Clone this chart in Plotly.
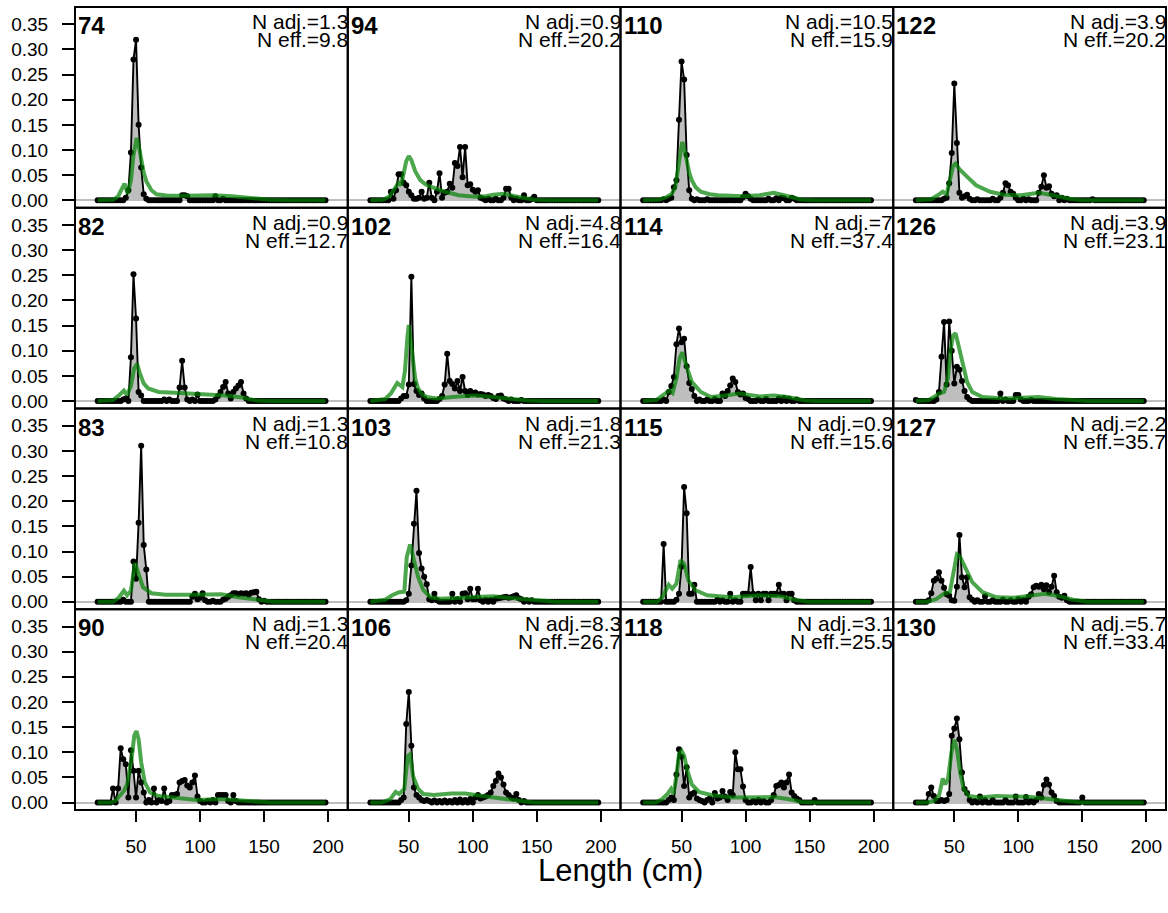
import plotly.graph_objects as go
from plotly.subplots import make_subplots

# ---------------- data ----------------
LENGTH_BINS = list(range(20, 200, 2))
X_TICKS = [50, 100, 150, 200]
Y_TICKS = [0.0, 0.05, 0.10, 0.15, 0.20, 0.25, 0.30, 0.35]
Y_TICK_LABELS = ["0.00", "0.05", "0.10", "0.15", "0.20", "0.25", "0.30", "0.35"]

# panels in column-major order (as drawn)
PANEL_IDS = [74, 82, 83, 90, 94, 102, 103, 106, 110, 114, 115, 118, 122, 126, 127, 130]
N_ADJ = ["1.3", "0.9", "1.3", "1.3", "0.9", "4.8", "1.8", "8.3",
         "10.5", "7", "0.9", "3.1", "3.9", "3.9", "2.2", "5.7"]
N_EFF = ["9.8", "12.7", "10.8", "20.4", "20.2", "16.4", "21.3", "26.7",
         "15.9", "37.4", "15.6", "25.5", "20.2", "23.1", "35.7", "33.4"]

# observed proportions (bins not listed are zero)
obs_74 = {42: 0.005, 44: 0.02, 46: 0.095, 48: 0.28, 50: 0.319, 52: 0.15, 54: 0.065, 56: 0.012,
          58: 0.003, 86: 0.01, 88: 0.01, 90: 0.008, 112: 0.008, 118: 0.003}
obs_82 = {40: 0.003, 42: 0.005, 46: 0.087, 48: 0.252, 50: 0.164, 52: 0.018, 54: 0.011, 72: 0.003,
          76: 0.003, 84: 0.027, 86: 0.08, 88: 0.027, 90: 0.003, 94: 0.003, 98: 0.013, 112: 0.003,
          114: 0.01, 116: 0.018, 118: 0.028, 120: 0.038, 122: 0.015, 124: 0.005, 126: 0.018,
          128: 0.025, 130: 0.031, 132: 0.038, 134: 0.015, 136: 0.005}
obs_83 = {40: 0.004, 48: 0.08, 50: 0.046, 52: 0.157, 54: 0.31, 56: 0.113, 58: 0.064, 94: 0.01,
          96: 0.016, 98: 0.005, 100: 0.008, 102: 0.017, 104: 0.003, 110: 0.002, 118: 0.004,
          120: 0.006, 122: 0.01, 124: 0.013, 126: 0.017, 128: 0.017, 130: 0.015, 132: 0.017,
          134: 0.016, 136: 0.017, 138: 0.014, 140: 0.018, 142: 0.019, 144: 0.02, 146: 0.005,
          150: 0.002}
obs_90 = {32: 0.028, 36: 0.028, 38: 0.108, 40: 0.086, 42: 0.076, 44: 0.01, 46: 0.104, 48: 0.063,
          50: 0.01, 52: 0.063, 54: 0.04, 56: 0.02, 60: 0.005, 64: 0.028, 68: 0.005, 70: 0.003,
          72: 0.028, 76: 0.003, 78: 0.015, 80: 0.015, 82: 0.017, 84: 0.04, 86: 0.043, 88: 0.045,
          90: 0.034, 92: 0.03, 94: 0.04, 96: 0.054, 98: 0.012, 100: 0.003, 106: 0.003, 110: 0.005,
          114: 0.015, 116: 0.015, 118: 0.015, 120: 0.015, 122: 0.003, 126: 0.015, 128: 0.003}
obs_94 = {36: 0.017, 38: 0.003, 40: 0.02, 42: 0.052, 44: 0.052, 46: 0.035, 48: 0.03, 50: 0.017,
          52: 0.01, 54: 0.003, 56: 0.003, 58: 0.005, 60: 0.017, 62: 0.003, 64: 0.005, 66: 0.035,
          68: 0.005, 72: 0.017, 74: 0.054, 76: 0.005, 78: 0.015, 80: 0.017, 82: 0.033, 84: 0.025,
          86: 0.074, 88: 0.068, 90: 0.106, 92: 0.046, 94: 0.106, 96: 0.03, 98: 0.032, 100: 0.021,
          102: 0.017, 104: 0.02, 106: 0.005, 108: 0.003, 112: 0.003, 118: 0.003, 124: 0.005,
          126: 0.023, 128: 0.023, 130: 0.005, 134: 0.003, 140: 0.01, 146: 0.002, 148: 0.007}
obs_102 = {44: 0.005, 46: 0.01, 48: 0.01, 50: 0.033, 52: 0.247, 54: 0.034, 56: 0.02, 58: 0.012,
           60: 0.015, 62: 0.005, 74: 0.004, 76: 0.01, 78: 0.033, 80: 0.094, 82: 0.04, 84: 0.034,
           86: 0.025, 88: 0.04, 90: 0.02, 92: 0.048, 94: 0.02, 96: 0.012, 98: 0.02, 100: 0.015,
           102: 0.017, 104: 0.013, 106: 0.014, 108: 0.013, 110: 0.01, 112: 0.012, 114: 0.01,
           116: 0.006, 118: 0.004, 120: 0.01, 122: 0.011, 124: 0.005, 126: 0.003, 130: 0.003,
           138: 0.002}
obs_103 = {48: 0.003, 50: 0.016, 52: 0.072, 54: 0.155, 56: 0.221, 58: 0.097, 60: 0.066, 62: 0.05,
           64: 0.035, 66: 0.005, 68: 0.003, 70: 0.016, 72: 0.003, 84: 0.016, 88: 0.005, 92: 0.016,
           94: 0.017, 96: 0.005, 98: 0.026, 100: 0.005, 102: 0.005, 104: 0.026, 106: 0.003,
           110: 0.004, 114: 0.004, 118: 0.006, 120: 0.007, 122: 0.008, 124: 0.009, 126: 0.01,
           128: 0.008, 130: 0.009, 132: 0.011, 134: 0.013, 136: 0.007, 138: 0.005, 142: 0.003,
           146: 0.003}
obs_106 = {44: 0.005, 46: 0.01, 48: 0.156, 50: 0.22, 52: 0.113, 54: 0.03, 56: 0.015, 58: 0.01,
           60: 0.005, 62: 0.003, 64: 0.005, 66: 0.003, 70: 0.004, 74: 0.003, 78: 0.004, 82: 0.003,
           86: 0.005, 90: 0.006, 94: 0.005, 98: 0.007, 102: 0.01, 104: 0.015, 106: 0.008,
           108: 0.01, 110: 0.012, 112: 0.015, 114: 0.02, 116: 0.033, 118: 0.043, 120: 0.058,
           122: 0.05, 124: 0.036, 126: 0.02, 128: 0.015, 130: 0.01, 132: 0.008, 134: 0.017,
           136: 0.005, 140: 0.003}
obs_110 = {36: 0.002, 40: 0.003, 42: 0.005, 44: 0.026, 46: 0.04, 48: 0.16, 50: 0.276, 52: 0.24,
           54: 0.09, 56: 0.02, 58: 0.003, 62: 0.002, 70: 0.002, 98: 0.006, 100: 0.013, 102: 0.008,
           104: 0.003, 118: 0.003, 124: 0.004, 128: 0.005, 130: 0.004, 136: 0.005, 138: 0.003}
obs_114 = {36: 0.003, 40: 0.018, 42: 0.03, 44: 0.048, 46: 0.113, 48: 0.144, 50: 0.117, 52: 0.124,
           54: 0.069, 56: 0.036, 58: 0.024, 60: 0.01, 64: 0.003, 70: 0.003, 76: 0.004, 82: 0.015,
           84: 0.01, 86: 0.02, 88: 0.031, 90: 0.045, 92: 0.038, 94: 0.018, 96: 0.013, 98: 0.015,
           100: 0.006, 102: 0.004, 110: 0.003, 116: 0.004, 126: 0.005, 130: 0.006, 134: 0.004,
           140: 0.003}
obs_115 = {36: 0.115, 46: 0.004, 48: 0.016, 50: 0.07, 52: 0.228, 54: 0.176, 56: 0.016, 58: 0.016,
           60: 0.034, 78: 0.004, 82: 0.003, 88: 0.016, 92: 0.003, 98: 0.016, 100: 0.016,
           102: 0.016, 104: 0.069, 106: 0.016, 108: 0.003, 110: 0.016, 112: 0.003, 114: 0.016,
           116: 0.016, 118: 0.003, 120: 0.016, 122: 0.016, 124: 0.016, 126: 0.034, 128: 0.016,
           130: 0.016, 132: 0.003, 134: 0.016, 136: 0.016, 138: 0.003}
obs_118 = {40: 0.005, 42: 0.01, 44: 0.005, 46: 0.056, 48: 0.106, 50: 0.091, 52: 0.033, 54: 0.07,
           56: 0.01, 58: 0.017, 60: 0.02, 62: 0.008, 64: 0.005, 66: 0.003, 70: 0.005, 72: 0.008,
           76: 0.019, 78: 0.008, 80: 0.01, 82: 0.023, 84: 0.012, 86: 0.005, 88: 0.021, 90: 0.015,
           92: 0.1, 94: 0.066, 96: 0.066, 98: 0.032, 100: 0.005, 106: 0.003, 110: 0.005,
           114: 0.003, 120: 0.005, 122: 0.015, 124: 0.033, 126: 0.035, 128: 0.04, 130: 0.03,
           132: 0.04, 134: 0.056, 136: 0.02, 138: 0.013, 140: 0.008, 142: 0.005, 154: 0.005}
obs_122 = {42: 0.003, 44: 0.005, 46: 0.034, 48: 0.094, 50: 0.232, 52: 0.114, 54: 0.015, 56: 0.005,
           58: 0.008, 60: 0.011, 62: 0.003, 68: 0.002, 80: 0.003, 86: 0.005, 88: 0.015, 90: 0.034,
           92: 0.03, 94: 0.017, 96: 0.013, 98: 0.005, 104: 0.003, 108: 0.002, 116: 0.015,
           118: 0.027, 120: 0.05, 122: 0.025, 124: 0.028, 126: 0.013, 128: 0.008, 130: 0.01,
           134: 0.005, 138: 0.003, 158: 0.002}
obs_126 = {20: 0.002, 36: 0.003, 38: 0.018, 40: 0.088, 42: 0.157, 44: 0.033, 46: 0.158, 48: 0.1,
           50: 0.035, 52: 0.068, 54: 0.062, 56: 0.04, 58: 0.02, 60: 0.008, 62: 0.003, 86: 0.015,
           90: 0.003, 98: 0.012, 100: 0.012, 102: 0.003, 110: 0.002}
obs_127 = {30: 0.003, 32: 0.017, 34: 0.042, 36: 0.046, 38: 0.059, 40: 0.042, 42: 0.028, 44: 0.015,
           46: 0.012, 48: 0.003, 50: 0.002, 52: 0.03, 54: 0.133, 56: 0.049, 58: 0.029, 60: 0.049,
           62: 0.009, 64: 0.004, 68: 0.003, 74: 0.011, 80: 0.003, 88: 0.004, 94: 0.003, 100: 0.005,
           104: 0.004, 108: 0.01, 110: 0.015, 112: 0.029, 114: 0.032, 116: 0.03, 118: 0.034,
           120: 0.025, 122: 0.033, 124: 0.019, 126: 0.03, 128: 0.052, 130: 0.019, 132: 0.01,
           134: 0.008, 136: 0.012, 138: 0.003}
obs_130 = {30: 0.017, 32: 0.03, 34: 0.013, 36: 0.003, 38: 0.003, 40: 0.005, 42: 0.003, 44: 0.005,
           46: 0.017, 48: 0.133, 50: 0.147, 52: 0.167, 54: 0.126, 56: 0.06, 58: 0.027, 60: 0.019,
           62: 0.005, 66: 0.003, 70: 0.012, 74: 0.005, 80: 0.005, 90: 0.005, 98: 0.012, 106: 0.011,
           110: 0.003, 114: 0.005, 116: 0.017, 118: 0.01, 120: 0.035, 122: 0.046, 124: 0.036,
           126: 0.02, 128: 0.013, 130: 0.003, 150: 0.01}

# expected (fitted) proportions, read as (length, proportion) points along the curve
exp_74 = [(20, 0), (32, 0.001), (36, 0.008), (39, 0.025), (41, 0.033), (43.5, 0.013), (46, 0.04),
          (48, 0.09), (50.5, 0.124), (52, 0.11), (54, 0.08), (56, 0.055), (58, 0.038), (62, 0.02),
          (66, 0.012), (75, 0.009), (90, 0.009), (110, 0.01), (125, 0.008), (140, 0.004),
          (155, 0.001), (170, 0), (198, 0)]
exp_82 = [(20, 0), (32, 0.002), (37, 0.012), (40.5, 0.021), (43, 0.012), (46, 0.03), (48.5, 0.065),
          (50.8, 0.074), (53, 0.055), (56, 0.035), (59.5, 0.025), (67.7, 0.018), (84, 0.016),
          (105.8, 0.013), (119.4, 0.011), (133, 0.007), (144, 0.001), (155, 0), (198, 0)]
exp_83 = [(20, 0), (32, 0), (36.4, 0.008), (40.5, 0.022), (43, 0.013), (46, 0.022), (49.2, 0.077),
          (51.4, 0.062), (55.4, 0.029), (62, 0.017), (73, 0.014), (95, 0.014), (116.7, 0.015),
          (130, 0.009), (144, 0.004), (157.5, 0), (198, 0)]
exp_90 = [(20, 0), (29.6, 0), (33.7, 0.003), (37.2, 0.013), (40.5, 0.023), (43, 0.036),
          (46.5, 0.086), (48.6, 0.133), (50.3, 0.142), (52, 0.126), (54, 0.08), (56.8, 0.04),
          (61, 0.02), (67.7, 0.013), (84, 0.008), (97.6, 0.005), (116.7, 0.007), (130, 0.005),
          (144, 0.001), (155, 0), (198, 0)]
exp_94 = [(20, 0), (30, 0.001), (35, 0.008), (39, 0.025), (42, 0.035), (44, 0.03), (46, 0.05),
          (48, 0.078), (50, 0.088), (52, 0.08), (55, 0.058), (59, 0.04), (63, 0.032), (67, 0.027),
          (78, 0.017), (89, 0.01), (102, 0.007), (110, 0.008), (116, 0.011), (124, 0.013),
          (135, 0.007), (148, 0.001), (160, 0), (198, 0)]
exp_102 = [(20, 0), (31.5, 0.004), (36, 0.015), (41, 0.036), (45, 0.028), (47, 0.06), (49, 0.13),
           (50, 0.151), (51.5, 0.12), (53, 0.08), (55, 0.045), (57, 0.027), (60, 0.014), (64, 0.008),
           (72, 0.005), (88.6, 0.009), (102, 0.011), (116, 0.008), (129.5, 0.004), (143, 0.001),
           (155, 0), (198, 0)]
exp_103 = [(20, 0), (31.5, 0.004), (37, 0.013), (42.4, 0.019), (46.5, 0.02), (48.4, 0.089),
           (51, 0.114), (53.8, 0.086), (57.3, 0.049), (61.4, 0.023), (67, 0.009), (75, 0.006),
           (88.6, 0.008), (116, 0.011), (132, 0.007), (148.5, 0.003), (165, 0), (198, 0)]
exp_106 = [(20, 0), (28.8, 0), (35.6, 0.007), (39.7, 0.021), (42.4, 0.017), (46.5, 0.027),
           (49.2, 0.093), (51, 0.096), (53.3, 0.053), (57.3, 0.027), (61.4, 0.017), (69.6, 0.015),
           (83.2, 0.018), (94, 0.018), (107.7, 0.013), (121, 0.008), (137.6, 0.003), (148.5, 0),
           (198, 0)]
exp_110 = [(20, 0), (32, 0.001), (38, 0.006), (42, 0.012), (45, 0.025), (47, 0.06), (49, 0.1),
           (50.5, 0.116), (52, 0.105), (54, 0.08), (56, 0.055), (58, 0.04), (61, 0.026), (65, 0.017),
           (72, 0.012), (78.5, 0.01), (97.6, 0.008), (111, 0.01), (122, 0.015), (130, 0.01),
           (138, 0.004), (144, 0.001), (155, 0), (198, 0)]
exp_114 = [(20, 0), (30, 0.002), (37.8, 0.016), (40.5, 0.021), (43, 0.016), (46, 0.045),
           (48.5, 0.085), (50.5, 0.097), (54, 0.068), (58, 0.038), (65, 0.018), (73, 0.008),
           (84, 0.011), (95, 0.015), (111, 0.009), (122, 0.011), (133, 0.008), (146.6, 0.001),
           (155, 0), (198, 0)]
exp_115 = [(20, 0), (31, 0), (35, 0.009), (37.8, 0.022), (40, 0.034), (42.7, 0.026), (46, 0.036),
           (49.2, 0.083), (52, 0.075), (55.4, 0.042), (61, 0.023), (70, 0.013), (89, 0.009),
           (111, 0.013), (127.6, 0.011), (138.5, 0.004), (149, 0), (198, 0)]
exp_118 = [(20, 0), (29.6, 0), (35, 0.007), (39, 0.017), (41.8, 0.027), (43.7, 0.017), (46, 0.053),
           (48, 0.096), (50, 0.103), (52, 0.093), (54.6, 0.063), (58, 0.036), (63.6, 0.021),
           (73, 0.015), (89.5, 0.01), (105.8, 0.011), (122, 0.011), (133, 0.007), (144, 0.001),
           (155, 0), (198, 0)]
exp_122 = [(20, 0), (32, 0.002), (37, 0.01), (41, 0.017), (44, 0.012), (47, 0.045), (49, 0.068),
           (51, 0.073), (54, 0.062), (58.7, 0.05), (67, 0.03), (78, 0.017), (88.6, 0.011),
           (102, 0.01), (116, 0.015), (127, 0.01), (140, 0.003), (150, 0), (198, 0)]
exp_126 = [(20, 0), (30, 0.002), (34, 0.008), (38, 0.015), (42, 0.018), (45, 0.045), (47, 0.1),
           (49, 0.13), (51, 0.135), (53, 0.115), (55, 0.09), (57, 0.068), (60, 0.038), (64, 0.018),
           (72, 0.008), (88.6, 0.005), (102, 0.007), (116, 0.008), (129.5, 0.004), (143, 0.001),
           (155, 0), (198, 0)]
exp_127 = [(20, 0), (28.8, 0), (35.6, 0.005), (42.4, 0.017), (46.5, 0.019), (49, 0.056),
           (52, 0.094), (54.6, 0.089), (58.7, 0.066), (64, 0.039), (72, 0.019), (83, 0.009),
           (96.8, 0.008), (110, 0.012), (121, 0.016), (132, 0.011), (143, 0.004), (154, 0), (198, 0)]
exp_130 = [(20, 0), (28.8, 0), (34, 0.003), (38, 0.013), (41, 0.048), (43, 0.036), (45, 0.046),
           (47.8, 0.1), (50, 0.125), (52, 0.106), (54.6, 0.06), (57.3, 0.027), (61.4, 0.013),
           (69.6, 0.01), (83, 0.013), (96.8, 0.013), (110, 0.011), (124, 0.007), (137.6, 0.003),
           (148.5, 0), (198, 0)]

OBSERVED = {74: obs_74, 82: obs_82, 83: obs_83, 90: obs_90, 94: obs_94, 102: obs_102,
            103: obs_103, 106: obs_106, 110: obs_110, 114: obs_114, 115: obs_115, 118: obs_118,
            122: obs_122, 126: obs_126, 127: obs_127, 130: obs_130}
EXPECTED = {74: exp_74, 82: exp_82, 83: exp_83, 90: exp_90, 94: exp_94, 102: exp_102,
            103: exp_103, 106: exp_106, 110: exp_110, 114: exp_114, 115: exp_115, 118: exp_118,
            122: exp_122, 126: exp_126, 127: exp_127, 130: exp_130}

# ---------------- figure ----------------
FONT = "Liberation Sans, Arial, Helvetica, sans-serif"
NROW, NCOL = 4, 4
X_RANGE = [2.3, 215.4]
Y_RANGE = [-0.0148, 0.3843]

fig = make_subplots(rows=NROW, cols=NCOL, horizontal_spacing=0, vertical_spacing=0)

for i, pid in enumerate(PANEL_IDS):
    col = i // NROW + 1
    row = i % NROW + 1
    obs = OBSERVED[pid]
    y_obs = [obs.get(b, 0.0) for b in LENGTH_BINS]
    fig.add_trace(go.Scatter(
        x=LENGTH_BINS, y=y_obs, mode="lines+markers",
        line=dict(color="black", width=1.9),
        marker=dict(color="black", size=6),
        fill="tozeroy", fillcolor="rgb(190,190,190)",
        showlegend=False, hoverinfo="skip"), row=row, col=col)
    ex = EXPECTED[pid]
    fig.add_trace(go.Scatter(
        x=[p[0] for p in ex], y=[p[1] for p in ex], mode="lines",
        line=dict(color="rgba(0,128,0,0.7)", width=4),
        showlegend=False, hoverinfo="skip"), row=row, col=col)

    n = (row - 1) * NCOL + col
    xs = "" if n == 1 else str(n)
    xd, yd = "x%s domain" % xs, "y%s domain" % xs
    # panel frame
    fig.add_shape(type="rect", xref=xd, yref=yd, x0=0, x1=1, y0=0, y1=1,
                  line=dict(color="black", width=2), fillcolor="rgba(0,0,0,0)", layer="above")
    fig.add_annotation(text="<b>%d</b>" % pid, xref=xd, yref=yd,
                       x=0, y=1, xanchor="left", yanchor="top", xshift=1, yshift=-3,
                       showarrow=False, font=dict(family=FONT, size=24, color="black"))
    fig.add_annotation(text="N adj.=%s" % N_ADJ[i], xref=xd, yref=yd,
                       x=1, y=1, xanchor="right", yanchor="top", xshift=2, yshift=-1,
                       showarrow=False, font=dict(family=FONT, size=21, color="black"))
    fig.add_annotation(text="N eff.=%s" % N_EFF[i], xref=xd, yref=yd,
                       x=1, y=1, xanchor="right", yanchor="top", xshift=2, yshift=-19,
                       showarrow=False, font=dict(family=FONT, size=21, color="black"))

    fig.update_xaxes(row=row, col=col, range=X_RANGE, showgrid=False, zeroline=False,
                     showline=False,
                     tickvals=X_TICKS, ticks="outside" if row == NROW else "",
                     ticklen=11, tickwidth=1.5, tickcolor="black",
                     showticklabels=(row == NROW), ticklabelstandoff=8,
                     tickfont=dict(family=FONT, size=19, color="black"))
    fig.update_yaxes(row=row, col=col, range=Y_RANGE, showgrid=False,
                     zeroline=True, zerolinecolor="rgb(190,190,190)", zerolinewidth=1.5,
                     showline=False,
                     tickvals=Y_TICKS, ticktext=Y_TICK_LABELS,
                     ticks="outside" if col == 1 else "",
                     ticklen=12, tickwidth=1.5, tickcolor="black",
                     showticklabels=(col == 1), ticklabelstandoff=10,
                     tickfont=dict(family=FONT, size=19, color="black"))

fig.add_annotation(text="Length (cm)", xref="paper", yref="paper", x=0.5, y=-0.075,
                   xanchor="center", yanchor="middle", showarrow=False,
                   font=dict(family=FONT, size=31, color="black"))

fig.update_layout(width=1168, height=913, margin=dict(l=75, r=2, t=7, b=103),
                  paper_bgcolor="white", plot_bgcolor="white",
                  font=dict(family=FONT, color="black"))

fig.write_html("out.html", config={"displayModeBar": False},
               post_script="document.body.style.margin='0px';document.body.style.overflow='hidden';")
